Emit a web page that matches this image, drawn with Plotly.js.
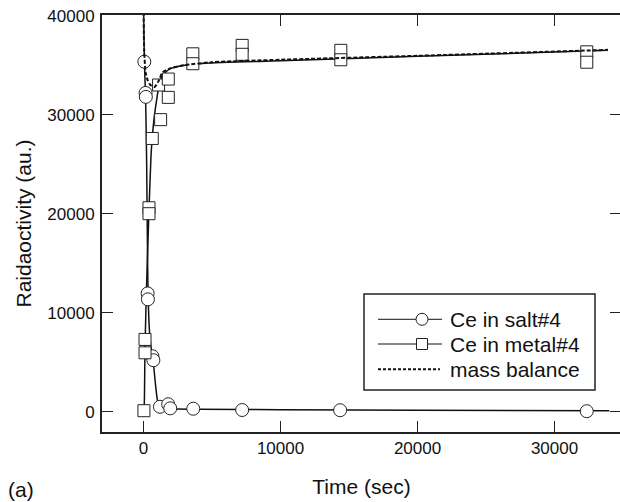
<!DOCTYPE html>
<html>
<head>
<meta charset="utf-8">
<script src="https://cdn.plot.ly/plotly-3.0.1.min.js"></script>
<style>
html,body{margin:0;padding:0;background:#fff;overflow:hidden;width:620px;height:502px;}
#chart{width:623px;height:502px;}
</style>
</head>
<body>
<div id="chart"></div>
<script>
// ---- measured data: Ce in salt#4 (circles) ----
const saltTime  = [60, 150, 170, 300, 320, 650, 720, 1200, 1800, 1950, 3630, 7200, 14350, 32350];
const saltValue = [35350, 32200, 31800, 11950, 11350, 5600, 5200, 500, 750, 340, 300, 170, 150, 50];

// ---- measured data: Ce in metal#4 (squares) ----
const metalTime  = [30, 110, 110, 400, 400, 640, 1100, 1250, 1810, 1810, 3600, 3600, 7200, 7200, 14400, 14400, 32350, 32350];
const metalValue = [100, 7300, 5950, 20600, 20000, 27600, 33000, 29500, 33600, 31750, 36150, 35150, 37000, 36100, 36500, 35550, 36350, 35300];

// ---- fitted curves ----
const saltFitTime  = [0, 60, 150, 230, 300, 350, 450, 600, 700, 800, 900, 1000, 1100, 1300, 2000, 4000, 10000, 20000, 34000];
const saltFitValue = [41000, 35500, 31800, 25000, 15000, 11000, 7800, 6000, 5200, 3800, 2400, 1300, 700, 400, 300, 250, 200, 150, 100];

const metalFitTime  = [0, 40, 110, 250, 400, 570, 760, 960, 1200, 1600, 2060, 3030, 4490, 10000, 20000, 33900];
const metalFitValue = [0, 200, 6600, 14000, 20300, 26400, 29500, 31500, 33400, 34300, 34700, 35000, 35200, 35450, 35900, 36500];

const massTime  = [0, 50, 150, 300, 500, 800, 1100, 1400, 2000, 3000, 5000, 10000, 20000, 33900];
const massValue = [41000, 36500, 34300, 33500, 33000, 32800, 33400, 34300, 34700, 35000, 35300, 35550, 35950, 36550];

// ---- labels ----
const legendLabels = ["Ce in salt#4", "Ce in metal#4", "mass balance"];
const xTitle = "Time (sec)";
const yTitle = "Raidaoctivity (au.)";
const panelLabel = "(a)";

const FONT = "'Liberation Sans', Arial, Helvetica, sans-serif";
const INK = "#111";

const traces = [
  {x: saltFitTime, y: saltFitValue, mode: "lines", line: {color: INK, width: 1.5, shape: "spline", smoothing: 0.6}, name: legendLabels[0] + " fit", showlegend: false, hoverinfo: "skip"},
  {x: metalFitTime, y: metalFitValue, mode: "lines", line: {color: INK, width: 1.5, shape: "spline", smoothing: 0.6}, name: legendLabels[1] + " fit", showlegend: false, hoverinfo: "skip"},
  {x: saltTime, y: saltValue, mode: "markers", name: legendLabels[0], showlegend: false,
   marker: {symbol: "circle", size: 13, color: "#fff", line: {color: "#222", width: 1}}},
  {x: metalTime, y: metalValue, mode: "markers", name: legendLabels[1], showlegend: false,
   marker: {symbol: "square", size: 12, color: "#fff", line: {color: "#222", width: 1}}},
  {x: massTime, y: massValue, mode: "lines", name: legendLabels[2], showlegend: false,
   line: {color: INK, width: 2, dash: "4px,2px", shape: "spline", smoothing: 0.6}}
];

// custom legend in paper coordinates
const L = {x0: 0.5048, x1: 0.9499, y0: 0.1007, y1: 0.3309};
const rows = [0.2703, 0.2110, 0.1504];
const sx0 = 0.5318, sx1 = 0.6551, mx = 0.6166, tx = 0.6667;

const shapes = [
  {type: "rect", xref: "paper", yref: "paper", x0: L.x0, x1: L.x1, y0: L.y0, y1: L.y1,
   line: {color: "#222", width: 1.5}, fillcolor: "#fff", layer: "above"},
  {type: "line", xref: "paper", yref: "paper", x0: sx0, x1: sx1, y0: rows[0], y1: rows[0], line: {color: INK, width: 1}},
  {type: "circle", xref: "paper", yref: "paper", xsizemode: "pixel", ysizemode: "pixel",
   xanchor: mx, yanchor: rows[0], x0: -6, x1: 6, y0: -6, y1: 6, fillcolor: "#fff", line: {color: "#222", width: 1}},
  {type: "line", xref: "paper", yref: "paper", x0: sx0, x1: sx1, y0: rows[1], y1: rows[1], line: {color: INK, width: 1}},
  {type: "rect", xref: "paper", yref: "paper", xsizemode: "pixel", ysizemode: "pixel",
   xanchor: mx, yanchor: rows[1], x0: -5.5, x1: 5.5, y0: -5.5, y1: 5.5, fillcolor: "#fff", line: {color: "#222", width: 1}},
  {type: "line", xref: "paper", yref: "paper", x0: sx0, x1: sx1 - 0.004, y0: rows[2], y1: rows[2], line: {color: INK, width: 2, dash: "3px,2px"}}
];

const annotations = legendLabels.map((t, i) => ({
  text: t, xref: "paper", yref: "paper", x: tx, y: rows[i], xanchor: "left", yanchor: "middle",
  showarrow: false, font: {family: FONT, size: 21, color: INK}
}));
annotations.push({text: panelLabel, xref: "paper", yref: "paper", x: -0.185, y: -0.139,
  xanchor: "left", yanchor: "middle", showarrow: false, font: {family: FONT, size: 21, color: INK}});

const layout = {
  width: 623, height: 502,
  margin: {l: 102, r: 2, t: 15, b: 70},
  paper_bgcolor: "#fff", plot_bgcolor: "#fff",
  font: {family: FONT, color: INK, size: 17},
  showlegend: false,
  xaxis: {
    range: [-3030, 34850], tick0: 0, dtick: 10000, tickformat: "d",
    ticks: "inside", ticklen: 11, tickwidth: 1.5, tickcolor: "#222",
    showline: true, linecolor: "#222", linewidth: 2, mirror: "ticks",
    showgrid: false, zeroline: false,
    tickfont: {family: FONT, size: 17, color: INK},
    title: {text: xTitle, font: {family: FONT, size: 21, color: INK}, standoff: 22}
  },
  yaxis: {
    range: [-2050, 40070], tick0: 0, dtick: 10000, tickformat: "d",
    ticks: "inside", ticklen: 11, tickwidth: 1.5, tickcolor: "#222",
    showline: true, linecolor: "#222", linewidth: 2, mirror: "ticks",
    showgrid: false, zeroline: false, ticklabelstandoff: 2,
    tickfont: {family: FONT, size: 17, color: INK},
    title: {text: yTitle, font: {family: FONT, size: 21, color: INK}, standoff: 10}
  },
  shapes: shapes,
  annotations: annotations
};

Plotly.newPlot("chart", traces, layout, {staticPlot: true, displayModeBar: false});
</script>
</body>
</html>
